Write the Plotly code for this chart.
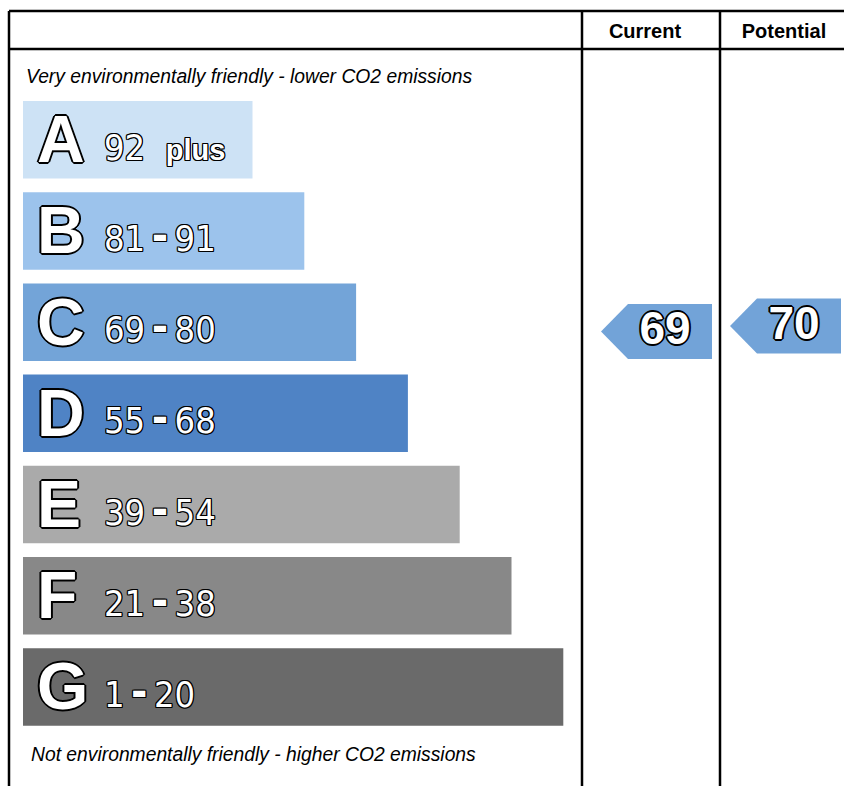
import plotly.graph_objects as go

# ---------------- data ----------------
bands = ["A", "B", "C", "D", "E", "F", "G"]
band_low = [92, 81, 69, 55, 39, 21, 1]
band_high = [100, 91, 80, 68, 54, 38, 20]
range_labels = ["92 plus", "81 - 91", "69 - 80", "55 - 68", "39 - 54", "21 - 38", "1 - 20"]
band_colors = ["#cde2f5", "#9cc3ec", "#73a4d8", "#4f83c5", "#aaaaaa", "#888888", "#6a6a6a"]
column_labels = ["Current", "Potential"]
ratings = [69, 70]
top_caption = "Very environmentally friendly - lower CO2 emissions"
bottom_caption = "Not environmentally friendly - higher CO2 emissions"

# ---------------- layout constants (pixels) ----------------
W, H = 844, 786
FRAME_L, FRAME_T, HEADER_B = 9, 11, 49
COL_X = [582, 720]
ROW_TOP, ROW_PITCH, BAR_H = 101, 91.2, 77.5
BAR_X0, BAR_LEN0, BAR_STEP = 23, 229.5, 51.8
ARROW_TIP_X = [601, 730]
ARROW_LEN, ARROW_H, ARROW_DEPTH = 111, 55, 27
ARROW_COLOR = "#72a3d8"
LINE_W = 2.5


def outline(px, extra=None):
    s = []
    for dx in (-px, 0, px):
        for dy in (-px, 0, px):
            if dx or dy:
                s.append(f"{dx}px {dy}px 0 #000")
    if extra:
        for dx, dy in ((extra, 0), (-extra, 0), (0, extra), (0, -extra)):
            s.append(f"{dx}px {dy}px 0 #000")
    return ", ".join(s)


def rating_y(v):
    i = next(k for k in range(len(bands)) if band_low[k] <= v <= band_high[k])
    return ROW_TOP + i * ROW_PITCH + BAR_H * (0.62 - 0.07 * (v - band_low[i]))


n = len(bands)
row_centers = [ROW_TOP + i * ROW_PITCH + BAR_H / 2 for i in range(n)]
bar_lengths = [BAR_LEN0 + BAR_STEP * i for i in range(n)]

fig = go.Figure()

# bars
fig.add_trace(go.Bar(
    orientation="h", y=row_centers, x=bar_lengths, base=BAR_X0, width=BAR_H,
    marker=dict(color=band_colors, line=dict(width=0)), hoverinfo="skip",
))

# band letters
fig.add_trace(go.Scatter(
    x=[37] * n, y=[c + 6 for c in row_centers], mode="text", text=bands,
    textposition="middle right",
    textfont=dict(family="Liberation Sans", size=66, color="white", weight="bold",
                  shadow=outline(1, 2)),
    hoverinfo="skip",
))

# band ranges
DASH = "<span style='font-weight:bold;font-size:44px'>-</span>"
range_text = []
for lab in range_labels:
    if "plus" in lab:
        num = lab.split()[0]
        range_text.append(num + "  <span style='font-family:Liberation Sans;font-weight:bold;font-size:29px'>plus</span>")
    else:
        a, b = [s.strip() for s in lab.split("-")]
        range_text.append(a + "\u2009" + DASH + "\u2009" + b)
fig.add_trace(go.Scatter(
    x=[104] * n, y=[c + 11 for c in row_centers], mode="text", text=range_text,
    textposition="middle right",
    textfont=dict(family="DejaVu Sans Condensed, sans-serif",
                  size=36, color="white", shadow=outline(1)),
    hoverinfo="skip",
))

# rating arrows
for k, v in enumerate(ratings):
    yc = rating_y(v)
    tx = ARROW_TIP_X[k]
    xs = [tx, tx + ARROW_DEPTH, tx + ARROW_LEN, tx + ARROW_LEN, tx + ARROW_DEPTH, tx]
    ys = [yc, yc - ARROW_H / 2, yc - ARROW_H / 2, yc + ARROW_H / 2, yc + ARROW_H / 2, yc]
    fig.add_trace(go.Scatter(
        x=xs, y=ys, mode="lines", fill="toself", fillcolor=ARROW_COLOR,
        line=dict(width=0, color=ARROW_COLOR), hoverinfo="skip",
    ))
    fig.add_trace(go.Scatter(
        x=[tx + ARROW_LEN - 47], y=[yc + 1], mode="text", text=[str(v)],
        textposition="middle center",
        textfont=dict(family="Liberation Sans", size=46, color="white", weight="bold",
                      shadow=outline(1, 2)),
        hoverinfo="skip",
    ))

# header labels
col_right = [COL_X[1], 2 * 784 - COL_X[1]]
fig.add_trace(go.Scatter(
    x=[(COL_X[0] + col_right[0]) / 2 - 6, (COL_X[1] + col_right[1]) / 2],
    y=[(FRAME_T + HEADER_B) / 2 + 3] * 2, mode="text", text=column_labels,
    textposition="middle center",
    textfont=dict(family="Liberation Sans", size=20, color="black", weight="bold"),
    hoverinfo="skip",
))

# captions
fig.add_trace(go.Scatter(
    x=[26, 31], y=[78, 756], mode="text", text=[top_caption, bottom_caption],
    textposition="middle right",
    textfont=dict(family="Liberation Sans", size=19.3, color="black", style="italic"),
    hoverinfo="skip",
))

# frame lines
lines = [
    (FRAME_L, FRAME_T, W + 20, FRAME_T),
    (FRAME_L, HEADER_B, W + 20, HEADER_B),
    (FRAME_L, FRAME_T, FRAME_L, H + 20),
    (COL_X[0], FRAME_T, COL_X[0], H + 20),
    (COL_X[1], FRAME_T, COL_X[1], H + 20),
]
for x0, y0, x1, y1 in lines:
    fig.add_shape(type="line", x0=x0, y0=y0, x1=x1, y1=y1, xref="x", yref="y",
                  line=dict(color="black", width=LINE_W))

fig.update_layout(
    width=W, height=H, margin=dict(l=0, r=0, t=0, b=0),
    paper_bgcolor="white", plot_bgcolor="white", showlegend=False,
    xaxis=dict(range=[0, W], visible=False, fixedrange=True),
    yaxis=dict(range=[H, 0], visible=False, fixedrange=True),
)

fig.write_html(
    "out.html",
    config={"displayModeBar": False},
    post_script="document.body.style.margin='0';document.body.style.overflow='hidden';",
)
